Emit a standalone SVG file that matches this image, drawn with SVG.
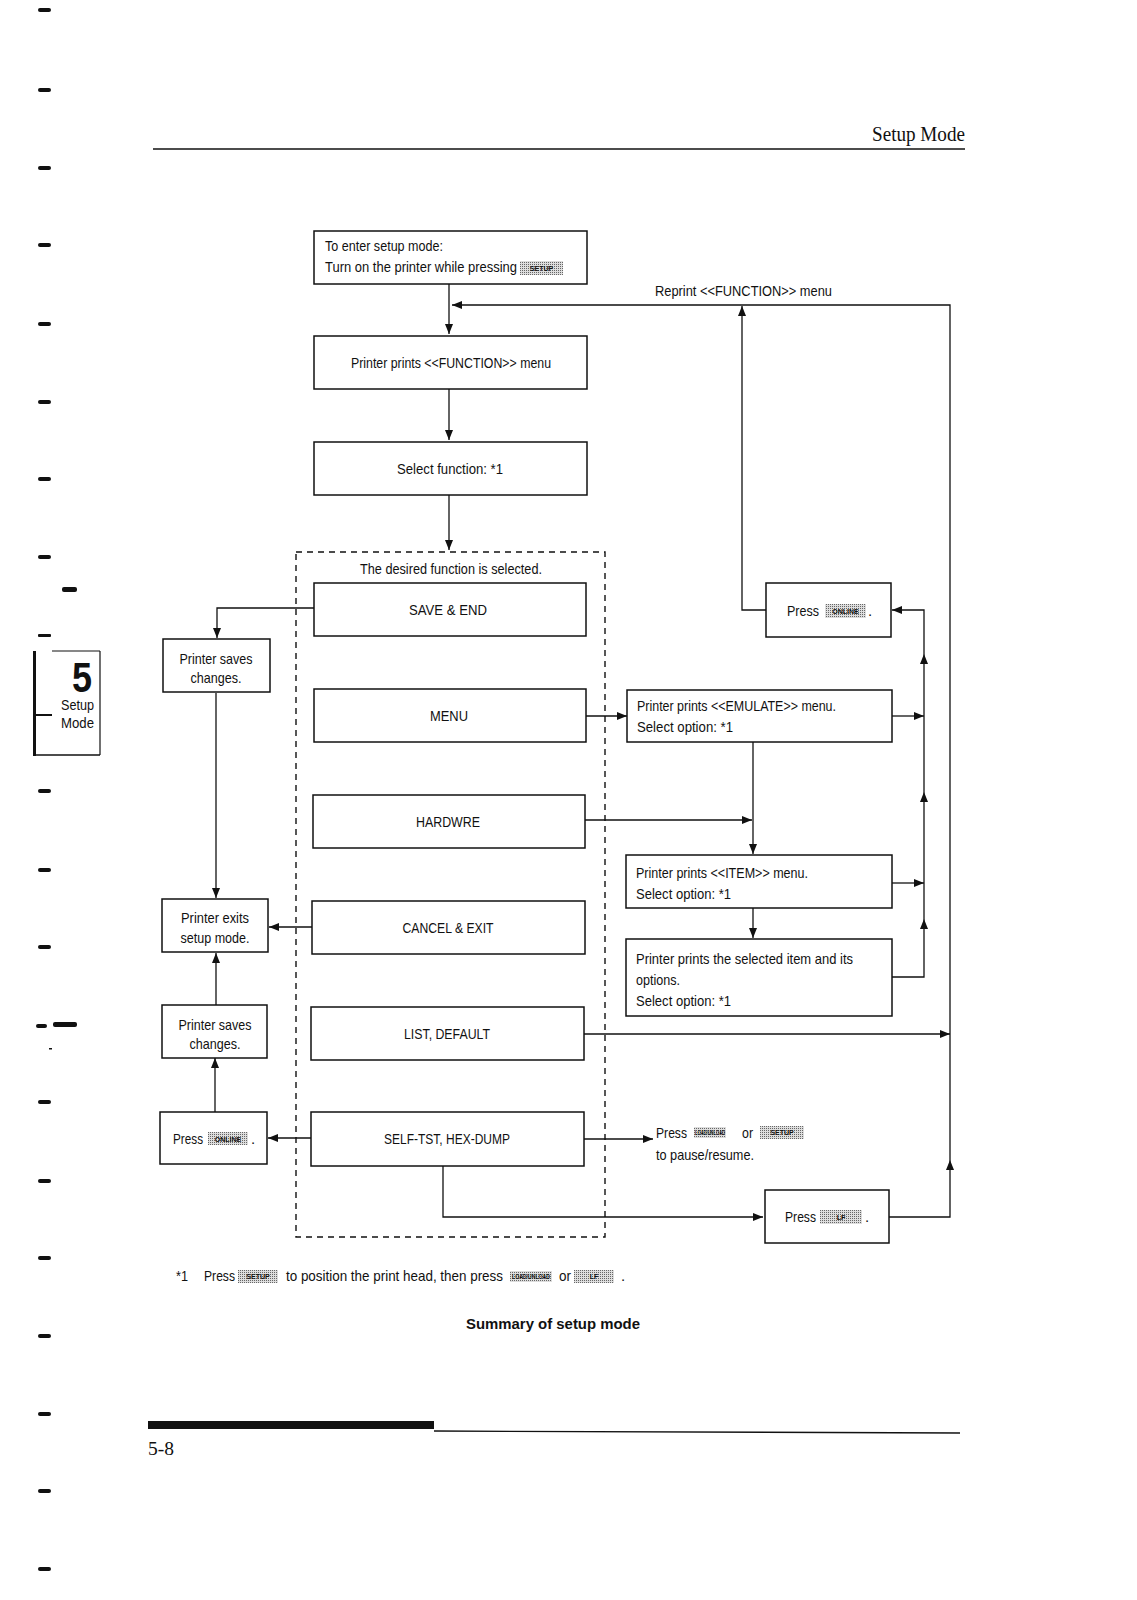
<svg xmlns="http://www.w3.org/2000/svg" xmlns:xlink="http://www.w3.org/1999/xlink" width="1137" height="1600" viewBox="0 0 1137 1600">
<style>
.box{fill:#fff;stroke:#111;stroke-width:1.5}
.ln{fill:none;stroke:#111;stroke-width:1.3}
.dash{fill:none;stroke:#111;stroke-width:1.4;stroke-dasharray:6 5}
.t{font-family:"Liberation Sans Narrow","Liberation Sans",Arial,sans-serif;font-size:15px;fill:#111}
.c{text-anchor:middle}
.k{fill:url(#dots)}
.kt{font-family:"Liberation Sans",Arial,sans-serif;font-size:7px;font-weight:bold;fill:#111;text-anchor:middle}
.mk{fill:#111}
</style>
<defs>
<pattern id="dots" width="2" height="2" patternUnits="userSpaceOnUse"><rect width="2" height="2" fill="#ddd"/><rect width="1" height="1" fill="#666"/></pattern>
<marker id="a" viewBox="0 0 10 8" refX="10" refY="4" markerWidth="10" markerHeight="8" markerUnits="userSpaceOnUse" orient="auto"><path d="M0,0 L10,4 L0,8 Z" fill="#111"/></marker>
</defs>
<rect width="1137" height="1600" fill="#fff"/>

<!-- page furniture -->
<g id="header">
<text x="965" y="141" text-anchor="end" font-family="Liberation Serif,serif" font-size="20" fill="#111" textLength="93" lengthAdjust="spacingAndGlyphs">Setup Mode</text>
<line x1="153" y1="149" x2="965" y2="149" stroke="#111" stroke-width="1.3"/>
</g>
<g id="footer">
<rect x="148" y="1421" width="286" height="8" fill="#111"/>
<line x1="434" y1="1431" x2="960" y2="1433" stroke="#111" stroke-width="1.3"/>
<text x="148" y="1455" font-family="Liberation Serif,serif" font-size="18" fill="#111" textLength="26" lengthAdjust="spacingAndGlyphs">5-8</text>
</g>
<g id="margin-marks" class="mk">
<rect x="38" y="8" width="13" height="4" rx="2"/>
<rect x="38" y="88" width="13" height="4" rx="2"/>
<rect x="38" y="166" width="13" height="4" rx="2"/>
<rect x="38" y="243" width="13" height="4" rx="2"/>
<rect x="38" y="322" width="13" height="4" rx="2"/>
<rect x="38" y="400" width="13" height="4" rx="2"/>
<rect x="38" y="477" width="13" height="4" rx="2"/>
<rect x="38" y="555" width="13" height="4" rx="2"/>
<rect x="62" y="587" width="15" height="5" rx="2"/>
<rect x="38" y="634" width="13" height="3" rx="1"/>
<rect x="38" y="789" width="13" height="4" rx="2"/>
<rect x="38" y="868" width="13" height="4" rx="2"/>
<rect x="38" y="945" width="13" height="4" rx="2"/>
<rect x="36" y="1024" width="11" height="4" rx="2"/>
<rect x="53" y="1022" width="24" height="5" rx="2"/>
<rect x="49" y="1048" width="3" height="1.5"/>
<rect x="38" y="1100" width="13" height="4" rx="2"/>
<rect x="38" y="1179" width="13" height="4" rx="2"/>
<rect x="38" y="1256" width="13" height="4" rx="2"/>
<rect x="38" y="1334" width="13" height="4" rx="2"/>
<rect x="38" y="1412" width="13" height="4" rx="2"/>
<rect x="38" y="1489" width="13" height="4" rx="2"/>
<rect x="38" y="1567" width="13" height="4" rx="2"/>
</g>
<g id="tab">
<line x1="34.5" y1="651" x2="34.5" y2="756" stroke="#111" stroke-width="3"/>
<line x1="33" y1="755" x2="100" y2="755" stroke="#111" stroke-width="1.5"/>
<line x1="100" y1="651" x2="100" y2="755" stroke="#111" stroke-width="1.2"/>
<line x1="52" y1="651" x2="100" y2="651" stroke="#111" stroke-width="1.2"/>
<line x1="36" y1="715" x2="52" y2="715" stroke="#111" stroke-width="2"/>
<text x="92" y="692" text-anchor="end" font-family="Liberation Sans,Arial,sans-serif" font-weight="bold" font-size="42" fill="#111" textLength="20" lengthAdjust="spacingAndGlyphs">5</text>
<text x="94" y="710" text-anchor="end" class="t" font-size="14" textLength="33" lengthAdjust="spacingAndGlyphs">Setup</text>
<text x="94" y="728" text-anchor="end" class="t" font-size="14" textLength="33" lengthAdjust="spacingAndGlyphs">Mode</text>
</g>

<!-- connectors -->
<g id="connectors">
<path class="ln" d="M449,284 V334" marker-end="url(#a)"/>
<path class="ln" d="M449,389 V440" marker-end="url(#a)"/>
<path class="ln" d="M449,495 V550" marker-end="url(#a)"/>
<path class="ln" d="M314,608 H217 V638" marker-end="url(#a)"/>
<path class="ln" d="M216,693 V898" marker-end="url(#a)"/>
<path class="ln" d="M312,927 H269" marker-end="url(#a)"/>
<path class="ln" d="M216,1005 V953" marker-end="url(#a)"/>
<path class="ln" d="M215,1112 V1058" marker-end="url(#a)"/>
<path class="ln" d="M311,1138 H268" marker-end="url(#a)"/>
<path class="ln" d="M766,610 H742 V306" marker-end="url(#a)"/>
<path class="ln" d="M586,716 H627" marker-end="url(#a)"/>
<path class="ln" d="M892,716 H924" marker-end="url(#a)"/>
<path class="ln" d="M585,820 H752" marker-end="url(#a)"/>
<path class="ln" d="M753,742 V854" marker-end="url(#a)"/>
<path class="ln" d="M892,883 H924" marker-end="url(#a)"/>
<path class="ln" d="M753,908 V938" marker-end="url(#a)"/>
<path class="ln" d="M892,977 H924 V919" marker-end="url(#a)"/>
<path class="ln" d="M924,919 V792" marker-end="url(#a)"/>
<path class="ln" d="M924,792 V654" marker-end="url(#a)"/>
<path class="ln" d="M924,654 V610 H892" marker-end="url(#a)"/>
<path class="ln" d="M584,1034 H950" marker-end="url(#a)"/>
<path class="ln" d="M584,1139 H653" marker-end="url(#a)"/>
<path class="ln" d="M443,1166 V1217 H763" marker-end="url(#a)"/>
<path class="ln" d="M889,1217 H950 V1160" marker-end="url(#a)"/>
<path class="ln" d="M950,1160 V305 H452" marker-end="url(#a)"/>
</g>

<!-- dashed group -->
<g id="selection-frame">
<rect class="dash" x="296" y="552" width="309" height="685"/>
<text class="t c" x="451" y="574" textLength="182" lengthAdjust="spacingAndGlyphs">The desired function is selected.</text>
</g>

<g id="enter">
<rect class="box" x="314" y="231" width="273" height="53"/>
<text class="t" x="325" y="251" textLength="118" lengthAdjust="spacingAndGlyphs">To enter setup mode:</text>
<text class="t" x="325" y="272" textLength="192" lengthAdjust="spacingAndGlyphs">Turn on the printer while pressing</text>
<rect class="k" x="520" y="261" width="43" height="14"/>
<text class="kt" x="541.5" y="271">SETUP</text>
</g>
<g id="func-menu">
<rect class="box" x="314" y="336" width="273" height="53"/>
<text class="t c" x="451" y="368" textLength="200" lengthAdjust="spacingAndGlyphs">Printer prints &lt;&lt;FUNCTION&gt;&gt; menu</text>
</g>
<g id="select-func">
<rect class="box" x="314" y="442" width="273" height="53"/>
<text class="t c" x="450" y="474" textLength="106" lengthAdjust="spacingAndGlyphs">Select function: *1</text>
</g>
<g id="reprint-label">
<text class="t" x="655" y="296" textLength="177" lengthAdjust="spacingAndGlyphs">Reprint &lt;&lt;FUNCTION&gt;&gt; menu</text>
</g>

<g id="save-end">
<rect class="box" x="314" y="583" width="272" height="53"/>
<text class="t c" x="448" y="615" textLength="78" lengthAdjust="spacingAndGlyphs">SAVE &amp; END</text>
</g>
<g id="menu">
<rect class="box" x="314" y="689" width="272" height="53"/>
<text class="t c" x="449" y="721" textLength="38" lengthAdjust="spacingAndGlyphs">MENU</text>
</g>
<g id="hardwre">
<rect class="box" x="313" y="795" width="272" height="53"/>
<text class="t c" x="448" y="827" textLength="64" lengthAdjust="spacingAndGlyphs">HARDWRE</text>
</g>
<g id="cancel-exit">
<rect class="box" x="312" y="901" width="273" height="53"/>
<text class="t c" x="448" y="933" textLength="91" lengthAdjust="spacingAndGlyphs">CANCEL &amp; EXIT</text>
</g>
<g id="list-default">
<rect class="box" x="311" y="1007" width="273" height="53"/>
<text class="t c" x="447" y="1039" textLength="86" lengthAdjust="spacingAndGlyphs">LIST, DEFAULT</text>
</g>
<g id="self-tst">
<rect class="box" x="311" y="1112" width="273" height="54"/>
<text class="t c" x="447" y="1144" textLength="126" lengthAdjust="spacingAndGlyphs">SELF-TST, HEX-DUMP</text>
</g>

<g id="saves-1">
<rect class="box" x="163" y="639" width="107" height="53"/>
<text class="t c" x="216" y="664" textLength="73" lengthAdjust="spacingAndGlyphs">Printer saves</text>
<text class="t c" x="216" y="683" textLength="51" lengthAdjust="spacingAndGlyphs">changes.</text>
</g>
<g id="exits">
<rect class="box" x="162" y="899" width="106" height="53"/>
<text class="t c" x="215" y="923" textLength="68" lengthAdjust="spacingAndGlyphs">Printer exits</text>
<text class="t c" x="215" y="943" textLength="69" lengthAdjust="spacingAndGlyphs">setup mode.</text>
</g>
<g id="saves-2">
<rect class="box" x="162" y="1005" width="105" height="53"/>
<text class="t c" x="215" y="1030" textLength="73" lengthAdjust="spacingAndGlyphs">Printer saves</text>
<text class="t c" x="215" y="1049" textLength="51" lengthAdjust="spacingAndGlyphs">changes.</text>
</g>
<g id="press-online-left">
<rect class="box" x="160" y="1112" width="107" height="52"/>
<text class="t" x="173" y="1144" textLength="30" lengthAdjust="spacingAndGlyphs">Press</text>
<rect class="k" x="208" y="1132" width="40" height="13"/>
<text class="kt" x="228" y="1141.5">ONLINE</text>
<text class="t" x="251" y="1144">.</text>
</g>

<g id="press-online-right">
<rect class="box" x="766" y="583" width="125" height="54"/>
<text class="t" x="787" y="616" textLength="32" lengthAdjust="spacingAndGlyphs">Press</text>
<rect class="k" x="825" y="604" width="41" height="14"/>
<text class="kt" x="845.5" y="614">ONLINE</text>
<text class="t" x="868" y="616">.</text>
</g>
<g id="emulate">
<rect class="box" x="627" y="690" width="265" height="52"/>
<text class="t" x="637" y="711" textLength="199" lengthAdjust="spacingAndGlyphs">Printer prints &lt;&lt;EMULATE&gt;&gt; menu.</text>
<text class="t" x="637" y="732" textLength="96" lengthAdjust="spacingAndGlyphs">Select option: *1</text>
</g>
<g id="item">
<rect class="box" x="626" y="855" width="266" height="53"/>
<text class="t" x="636" y="878" textLength="172" lengthAdjust="spacingAndGlyphs">Printer prints &lt;&lt;ITEM&gt;&gt; menu.</text>
<text class="t" x="636" y="899" textLength="95" lengthAdjust="spacingAndGlyphs">Select option: *1</text>
</g>
<g id="selected-item">
<rect class="box" x="626" y="939" width="266" height="77"/>
<text class="t" x="636" y="964" textLength="217" lengthAdjust="spacingAndGlyphs">Printer prints the selected item and its</text>
<text class="t" x="636" y="985" textLength="44" lengthAdjust="spacingAndGlyphs">options.</text>
<text class="t" x="636" y="1006" textLength="95" lengthAdjust="spacingAndGlyphs">Select option: *1</text>
</g>
<g id="pause-note">
<text class="t" x="656" y="1138" textLength="31" lengthAdjust="spacingAndGlyphs">Press</text>
<rect class="k" x="694" y="1127" width="32" height="11"/>
<text class="kt" x="710" y="1135" font-size="5.5" textLength="30" lengthAdjust="spacingAndGlyphs">LOAD/UNLOAD</text>
<text class="t" x="742" y="1138" textLength="11" lengthAdjust="spacingAndGlyphs">or</text>
<rect class="k" x="760" y="1126" width="44" height="13"/>
<text class="kt" x="782" y="1135">SETUP</text>
<text class="t" x="656" y="1160" textLength="98" lengthAdjust="spacingAndGlyphs">to pause/resume.</text>
</g>
<g id="press-lf">
<rect class="box" x="765" y="1190" width="124" height="53"/>
<text class="t" x="785" y="1222" textLength="31" lengthAdjust="spacingAndGlyphs">Press</text>
<rect class="k" x="820" y="1210" width="42" height="14"/>
<text class="kt" x="841" y="1220">LF</text>
<text class="t" x="865" y="1222">.</text>
</g>

<g id="footnote">
<text class="t" x="176" y="1281" textLength="12" lengthAdjust="spacingAndGlyphs">*1</text>
<text class="t" x="204" y="1281" textLength="31" lengthAdjust="spacingAndGlyphs">Press</text>
<rect class="k" x="238" y="1270" width="40" height="13"/>
<text class="kt" x="258" y="1279">SETUP</text>
<text class="t" x="286" y="1281" textLength="217" lengthAdjust="spacingAndGlyphs">to position the print head, then press</text>
<rect class="k" x="510" y="1271" width="42" height="11"/>
<text class="kt" x="531" y="1279" font-size="5.5" textLength="38" lengthAdjust="spacingAndGlyphs">LOAD/UNLOAD</text>
<text class="t" x="559" y="1281" textLength="12" lengthAdjust="spacingAndGlyphs">or</text>
<rect class="k" x="574" y="1270" width="40" height="13"/>
<text class="kt" x="594" y="1279">LF</text>
<text class="t" x="621" y="1281">.</text>
</g>
<g id="caption">
<text class="t c" x="553" y="1329" font-weight="bold" font-size="16" textLength="174" lengthAdjust="spacingAndGlyphs">Summary of setup mode</text>
</g>
</svg>
